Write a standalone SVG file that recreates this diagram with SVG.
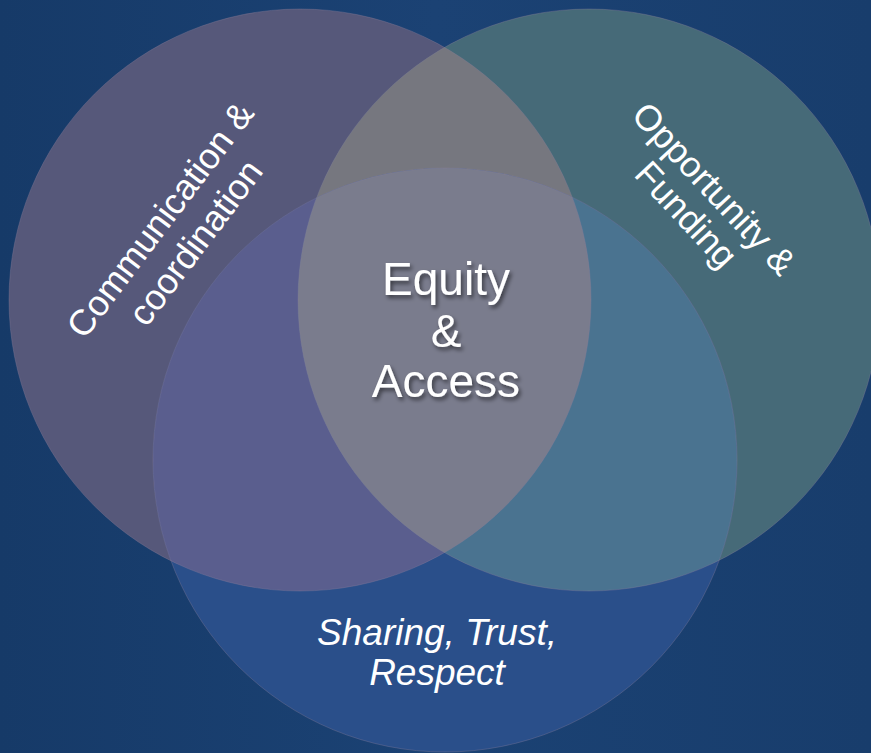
<svg xmlns="http://www.w3.org/2000/svg" width="871" height="753" viewBox="0 0 871 753">
  <defs>
    <linearGradient id="bg" x1="0" y1="0" x2="1" y2="0">
      <stop offset="0" stop-color="#163a68"/>
      <stop offset="0.5" stop-color="#1b4274"/>
      <stop offset="1" stop-color="#183d6c"/>
    </linearGradient>
    <clipPath id="clipL"><circle cx="300" cy="300" r="291"/></clipPath>
    <clipPath id="clipR"><circle cx="589" cy="300" r="291"/></clipPath>
    <clipPath id="clipB"><circle cx="445" cy="460" r="292"/></clipPath>
    <filter id="shadow" x="-20%" y="-20%" width="140%" height="140%">
      <feDropShadow dx="2" dy="3" stdDeviation="2" flood-color="#000" flood-opacity="0.55"/>
    </filter>
    <style>
      .lbl { font-family: "Liberation Sans", Arial, sans-serif; fill: #ffffff; }
      .edge { fill: none; stroke: #8a7f9a; stroke-opacity: 0.35; stroke-width: 1; }
    </style>
  </defs>

  <rect x="0" y="0" width="871" height="753" fill="url(#bg)"/>

  <g id="circle-left">
    <circle cx="300" cy="300" r="291" fill="#56587a"/>
  </g>
  <g id="circle-right">
    <circle cx="589" cy="300" r="291" fill="#466a78"/>
  </g>
  <g id="circle-bottom">
    <circle cx="445" cy="460" r="292" fill="#2a4f8a"/>
  </g>

  <g id="overlaps">
    <g clip-path="url(#clipL)">
      <circle cx="589" cy="300" r="291" fill="#76777f"/>
      <circle cx="445" cy="460" r="292" fill="#5a5e8e"/>
    </g>
    <g clip-path="url(#clipR)">
      <circle cx="445" cy="460" r="292" fill="#4a7390"/>
    </g>
    <g clip-path="url(#clipL)">
      <g clip-path="url(#clipR)">
        <circle cx="445" cy="460" r="292" fill="#7a7c8d"/>
      </g>
    </g>
    <circle class="edge" cx="300" cy="300" r="291"/>
    <circle class="edge" cx="589" cy="300" r="291"/>
    <circle class="edge" cx="445" cy="460" r="292"/>
  </g>

  <g id="label-communication" class="lbl" font-size="36" text-anchor="middle" transform="translate(170,227) rotate(-53)">
    <text x="0" y="0">Communication &amp;</text>
    <text x="3" y="42">coordination</text>
  </g>

  <g id="label-opportunity" class="lbl" font-size="36" text-anchor="middle" transform="translate(705,197) rotate(47)">
    <text x="0" y="0">Opportunity &amp;</text>
    <text x="0" y="38">Funding</text>
  </g>

  <g id="label-equity" class="lbl" font-size="46" text-anchor="middle" filter="url(#shadow)">
    <text x="446" y="295">Equity</text>
    <text x="446" y="347">&amp;</text>
    <text x="446" y="397">Access</text>
  </g>

  <g id="label-sharing" class="lbl" font-size="37" font-style="italic" text-anchor="middle">
    <text x="437" y="645">Sharing, Trust,</text>
    <text x="437" y="685">Respect</text>
  </g>
</svg>
